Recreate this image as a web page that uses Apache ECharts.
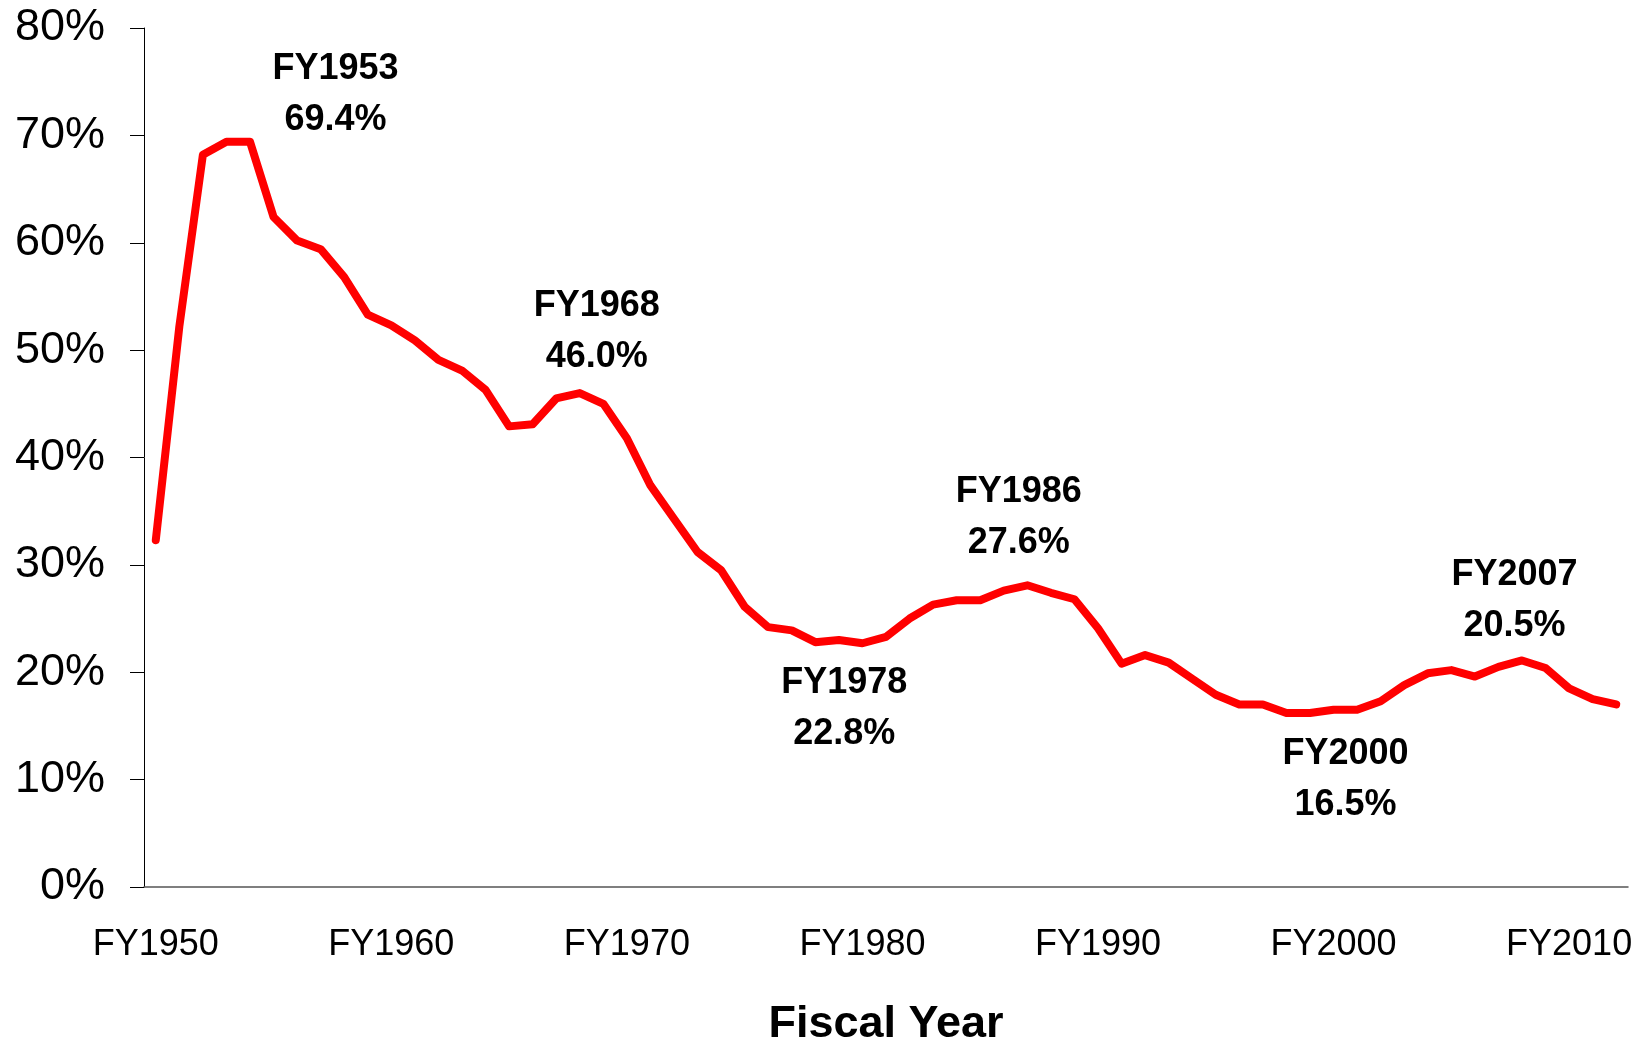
<!DOCTYPE html>
<html>
<head>
<meta charset="utf-8">
<script src="https://cdn.jsdelivr.net/npm/echarts@6/dist/echarts.min.js"></script>
<style>
  html, body { margin: 0; padding: 0; background: #fff; }
  #chart { width: 1648px; height: 1044px; }
</style>
</head>
<body>
<div id="chart"></div>
<script>
// fiscal years FY1950 - FY2012
var years = [];
for (var y = 1950; y <= 2012; y++) years.push('FY' + y);

// share (%) per fiscal year
var shares = [
  32.3, 52.2, 68.2, 69.4, 69.4, 62.4, 60.2, 59.4, 56.8, 53.3,   // 1950s
  52.3, 50.9, 49.1, 48.1, 46.3, 42.9, 43.1, 45.5, 46.0, 45.0,   // 1960s
  41.8, 37.4, 34.3, 31.2, 29.5, 26.1, 24.2, 23.9, 22.8, 23.0,   // 1970s
  22.7, 23.3, 25.0, 26.3, 26.7, 26.7, 27.6, 28.1, 27.4, 26.8,   // 1980s
  24.1, 20.8, 21.6, 20.9, 19.4, 17.9, 17.0, 17.0, 16.2, 16.2,   // 1990s
  16.5, 16.5, 17.3, 18.8, 19.9, 20.2, 19.6, 20.5, 21.1, 20.4,   // 2000s
  18.5, 17.5, 17.0                                               // 2010-2012
];

var yTicks = [0, 10, 20, 30, 40, 50, 60, 70, 80];

// annotated years
var noteYears = ['FY1953', 'FY1968', 'FY1978', 'FY1986', 'FY2000', 'FY2007'];
// label placement relative to the point (style only)
var noteOffsets = [[109, -47], [17, -61], [29, 66], [15, -73], [12, 70], [16, -66]];

var font = '"Liberation Sans", Arial, sans-serif';

var notes = noteYears.map(function (yr, i) {
  var v = shares[years.indexOf(yr)];
  return {
    coord: [yr, v],
    value: v,
    label: { offset: noteOffsets[i], formatter: yr + '\n' + v.toFixed(1) + '%' }
  };
});

var chart = echarts.init(document.getElementById('chart'));
chart.setOption({
  animation: false,
  backgroundColor: '#fff',
  grid: { left: 144, right: 20, top: 28, bottom: 157, containLabel: false, outerBoundsMode: 'none' },
  xAxis: {
    type: 'category',
    data: years,
    boundaryGap: true,
    name: 'Fiscal Year',
    nameLocation: 'middle',
    nameGap: 115,
    nameTextStyle: { fontFamily: font, fontSize: 45, fontWeight: 'bold', color: '#000' },
    axisLine: { lineStyle: { color: '#555', width: 1.5 } },
    axisTick: { interval: 0, length: 12, lineStyle: { color: '#555' } },
    axisLabel: { interval: 9, fontFamily: font, fontSize: 36, color: '#000', margin: 40 },
    splitLine: { show: false }
  },
  yAxis: {
    type: 'value',
    min: yTicks[0],
    max: yTicks[yTicks.length - 1],
    interval: 10,
    axisLine: { show: true, lineStyle: { color: '#000', width: 1 } },
    axisTick: { show: true, length: 14, lineStyle: { color: '#000' } },
    axisLabel: { fontFamily: font, fontSize: 45, color: '#000', margin: 39, formatter: '{value}%' },
    splitLine: { show: false }
  },
  series: [{
    type: 'line',
    data: shares,
    symbol: 'none',
    lineStyle: { color: '#ff0000', width: 8, cap: 'round', join: 'round' },
    itemStyle: { color: '#ff0000' },
    markPoint: {
      symbol: 'circle',
      symbolSize: 0,
      label: {
        show: true,
        position: 'inside',
        fontFamily: font,
        fontSize: 36,
        fontWeight: 'bold',
        lineHeight: 51,
        color: '#000',
        align: 'center',
        verticalAlign: 'middle'
      },
      data: notes
    }
  }]
});
</script>
</body>
</html>
